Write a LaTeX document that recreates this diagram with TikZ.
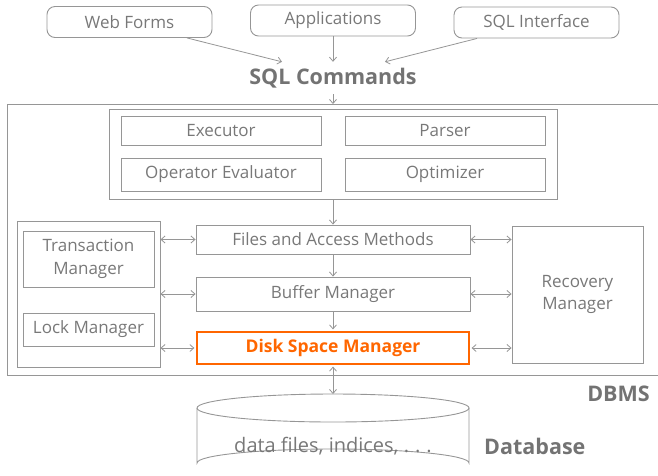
\documentclass[tikz,border=0pt]{standalone}
\usepackage{fontspec}
\setmainfont{Open Sans}
\usepackage{xcolor}
\usetikzlibrary{calc,arrows.meta}
\definecolor{linegray}{RGB}{150,150,150}
\definecolor{textgray}{RGB}{120,120,120}
\definecolor{titlegray}{RGB}{115,115,115}
\definecolor{dsmorange}{RGB}{255,102,0}

\begin{document}
\begin{tikzpicture}[x=1pt,y=-1pt]
        \tikzstyle{every node}=[text=textgray, font=\fontsize{17}{22.5}\selectfont, inner sep=0pt, align=center]
        \tikzstyle{box}=[draw=linegray, line width=0.9pt]
        \tikzstyle{src}=[box, rounded corners=8pt, minimum width=165, minimum height=31]
        \tikzstyle{title}=[font=\fontsize{21.5}{25}\selectfont\bfseries, text=titlegray]
        \tikzstyle{arr}=[draw=linegray, line width=0.8pt, -{Straight Barb[length=4pt,width=7pt]}]
        \tikzstyle{darr}=[arr, {Straight Barb[length=4pt,width=7pt]}-{Straight Barb[length=4pt,width=7pt]}]
        \useasboundingbox (0,0) rectangle (658,475);

        % sources
        \node[src] (wf) at (129.5,22) {Web Forms};
        \node[src] (app) at (333,20.5) {Applications};
        \node[src] (sqli) at (536.5,22.5) {SQL Interface};
        \node[title, minimum height=32] (sqlc) at (333,78) {SQL Commands};

        \draw[arr] ($(wf.south)+(57.5,0)$) to ($(sqlc.north)+(-51,0)$);
        \draw[arr] (app.south) to (sqlc.north);
        \draw[arr] ($(sqli.south)+(-59.5,0)$) to ($(sqlc.north)+(52,0)$);

        % dbms
        \draw[box] (658,104) -| (7,375) -- (658,375);
        \coordinate (dbms) at (333,104);
        \draw[arr] (sqlc.south) to (dbms);
        \node[title, anchor=east] (dbmsl) at (650,394) {DBMS};

        % query evaluation
        \node[box, minimum width=448, minimum height=90] (qe) at (333,154) {};
        \node[box, minimum width=200, minimum height=29] (ex) at (221,130.5) {Executor};
        \node[box, minimum width=200, minimum height=29] (pa) at (445,130.5) {Parser};
        \node[box, minimum width=200, minimum height=33] (oe) at (221,174.5) {Operator Evaluator};
        \node[box, minimum width=200, minimum height=33] (op) at (445,174.5) {Optimizer};

        % storage layers
        \node[box, minimum width=274, minimum height=29] (fam) at (333,239.5) {Files and Access Methods};
        \node[box, minimum width=274, minimum height=34] (bm) at (333,294) {Buffer Manager};
        \node[draw=dsmorange, line width=2.6pt, minimum width=272, minimum height=32, text=dsmorange, font=\fontsize{17.5}{20}\selectfont\bfseries] (dsm) at (333,348) {Disk Space Manager};

        \draw[arr] (qe.south) to (fam.north);
        \draw[arr] (fam.south) to (bm.north);
        \draw[arr] (bm.south) to ($(dsm.north)+(0,-1.3)$);

        % concurrency control
        \node[box, minimum width=143, minimum height=146] (cc) at (88.5,294) {};
        \node[box, minimum width=131, minimum height=56] (tm) at (88.5,259) {Transaction\\Manager};
        \node[box, minimum width=131, minimum height=33] (lm) at (88.5,329.5) {Lock Manager};
        \node[box, minimum width=131, minimum height=137] (rm) at (577.5,294.5) {Recovery\\Manager};

        \draw[darr] (cc.east |- fam.west) to (fam.west);
        \draw[darr] (cc.east |- bm.west) to (bm.west);
        \draw[darr] (cc.east |- dsm.west) to ($(dsm.west)+(-1.3,0)$);
        \draw[darr] (fam.east) to (rm.west |- fam.east);
        \draw[darr] (bm.east) to (rm.west |- bm.east);
        \draw[darr] ($(dsm.east)+(1.3,0)$) to (rm.west |- dsm.east);

        % database
        \draw[box] (333,408) ellipse (136 and 14);
        \draw[box] (197,408) -- (197,463) arc (180:360:136 and 14) -- (469,408);
        \coordinate (db) at (333,394);
        \node[font=\fontsize{20}{24}\selectfont] (dbt) at (333,446) {data files, indices, .\hspace{0.3em}.\hspace{0.3em}.};
        \node[title, anchor=west] (dbl) at (484,446) {Database};
        \draw[darr] ($(dsm.south)+(0,1.3)$) to (db);
\end{tikzpicture}
\end{document}
